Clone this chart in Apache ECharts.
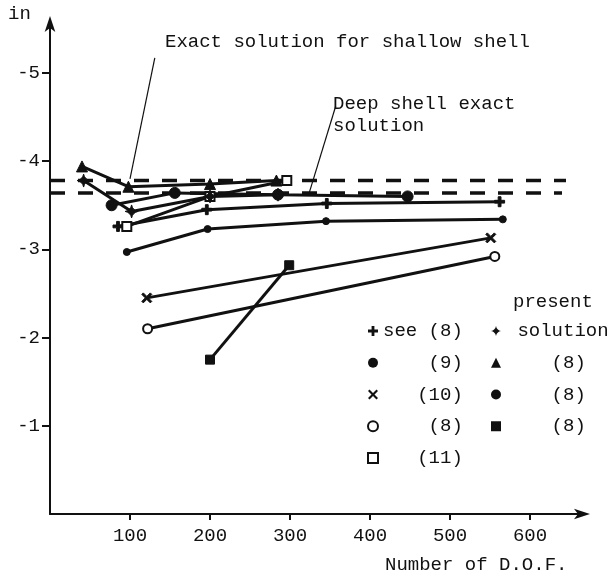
<!DOCTYPE html>
<html>
<head>
<meta charset="utf-8">
<script src="https://cdn.jsdelivr.net/npm/echarts@6/dist/echarts.min.js"></script>
<style>
  html, body { margin: 0; padding: 0; background: #fff; }
  #chart { width: 613px; height: 578px; }
</style>
</head>
<body>
<div id="chart"></div>
<script>
// values
const xTicks = [100, 200, 300, 400, 500, 600];
const yTicks = [-5, -4, -3, -2, -1];

const shallowExact = -3.78;
const deepExact = -3.64;
const exactEnd = [645, 640];

const seePlus8 = [[85, -3.26], [196, -3.45], [346, -3.52], [562, -3.54]];
const circle9 = [[77, -3.50], [156, -3.64], [285, -3.62], [447, -3.60]];
const cross10 = [[121, -2.45], [551, -3.13]];
const ring8 = [[122, -2.10], [556, -2.92]];
const openSquare11 = [[96, -3.26], [200, -3.60], [296, -3.78]];
const presentStar = [[42, -3.78], [102, -3.43], [200, -3.60], [285, -3.62]];
const presentTriangle = [[40, -3.94], [98, -3.71], [200, -3.74], [283, -3.78]];
const presentDot = [[96, -2.97], [197, -3.23], [345, -3.32], [566, -3.34]];
const presentSquare = [[200, -1.75], [299, -2.82]];

const font = 'Liberation Mono';
const ink = '#111';

const plusPath = 'path://M3.6,0H6.4V3.6H10V6.4H6.4V10H3.6V6.4H0V3.6H3.6Z';
const crossPath = 'path://M1.5,0L5,3.5L8.5,0L10,1.5L6.5,5L10,8.5L8.5,10L5,6.5L1.5,10L0,8.5L3.5,5L0,1.5Z';
const starPath = 'path://M5,0Q5.8,4.2 10,5Q5.8,5.8 5,10Q4.2,5.8 0,5Q4.2,4.2 5,0Z';

const legendText = {
  see8: 'see (8)',
  c9: '    (9)',
  x10: '   (10)',
  o8: '    (8)',
  sq11: '   (11)',
  pStar: ' solution',
  pTri: '    (8)',
  pDot: '    (8)',
  pSq: '    (8)'
};

function markSeries(name, data, symbol, size, extra) {
  return Object.assign({
    name: name,
    type: 'line',
    data: data,
    symbol: symbol,
    symbolSize: size,
    showSymbol: true,
    showAllSymbol: true,
    lineStyle: { color: ink, width: 3 },
    itemStyle: { color: ink, borderColor: ink },
    z: 3
  }, extra || {});
}

function exactLine(y, xEnd) {
  return {
    type: 'line',
    data: [[0, y], [xEnd, y]],
    symbol: 'none',
    silent: true,
    lineStyle: { color: ink, width: 3.5, type: [15, 13] },
    z: 2
  };
}

let legendBase = {
  orient: 'vertical',
  top: 316,
  itemWidth: 10,
  itemHeight: 10,
  itemGap: 11.75,
  selectedMode: false,
  formatter: n => legendText[n],
  textStyle: { fontFamily: font, fontSize: 19, lineHeight: 20, color: ink }
};

let chart = echarts.init(document.getElementById('chart'));

let options = {
  animation: false,
  backgroundColor: '#fff',
  grid: { left: 50, right: 27, top: 20, bottom: 64 },
  xAxis: {
    type: 'value',
    min: 0,
    max: 670,
    splitLine: { show: false },
    axisLine: { lineStyle: { color: ink, width: 2 }, symbol: ['none', 'arrow'], symbolSize: [8, 16], symbolOffset: [0, 4] },
    axisTick: { customValues: xTicks, length: 6, lineStyle: { color: ink, width: 2 } },
    axisLabel: { customValues: xTicks, color: ink, fontFamily: font, fontSize: 19, margin: 12 }
  },
  yAxis: {
    type: 'value',
    inverse: true,
    min: -5.6,
    max: 0,
    splitLine: { show: false },
    axisLine: { lineStyle: { color: ink, width: 2 }, symbol: ['none', 'arrow'], symbolSize: [8, 16], symbolOffset: [0, 4] },
    axisTick: { customValues: yTicks, length: 8, lineStyle: { color: ink, width: 2 } },
    axisLabel: { customValues: yTicks, color: ink, fontFamily: font, fontSize: 19, margin: 10 }
  },
  legend: [
    Object.assign({}, legendBase, {
      left: 362,
      data: [
        { name: 'see8', icon: plusPath },
        { name: 'c9', icon: 'circle' },
        { name: 'x10', icon: crossPath },
        { name: 'o8', icon: 'emptyCircle' },
        { name: 'sq11', icon: 'emptyRect' }
      ]
    }),
    Object.assign({}, legendBase, {
      left: 486,
      data: [
        { name: 'pStar', icon: starPath },
        { name: 'pTri', icon: 'triangle' },
        { name: 'pDot', icon: 'circle' },
        { name: 'pSq', icon: 'rect' }
      ]
    })
  ],
  graphic: [
    { type: 'text', left: 8, top: 4, style: { text: 'in', font: '19px "Liberation Mono"', fill: ink } },
    { type: 'text', left: 165, top: 32, style: { text: 'Exact solution for shallow shell', font: '19px "Liberation Mono"', fill: ink } },
    { type: 'text', left: 333, top: 93, style: { text: 'Deep shell exact\nsolution', font: '19px "Liberation Mono"', lineHeight: 22, fill: ink } },
    { type: 'text', left: 513, top: 292, style: { text: 'present', font: '19px "Liberation Mono"', fill: ink } },
    { type: 'text', left: 385, top: 555, style: { text: 'Number of D.O.F.', font: '19px "Liberation Mono"', fill: ink } }
  ],
  series: [
    exactLine(shallowExact, exactEnd[0]),
    exactLine(deepExact, exactEnd[1]),
    {
      type: 'line',
      data: [],
      silent: true,
      markLine: {
        silent: true,
        symbol: 'none',
        label: { show: false },
        lineStyle: { color: ink, width: 1.2, type: 'solid' },
        data: [
          [{ coord: [131, -5.17] }, { coord: [100, -3.80] }],
          [{ coord: [357, -4.62] }, { coord: [324, -3.64] }]
        ]
      }
    },
    markSeries('see8', seePlus8, plusPath, 10),
    markSeries('c9', circle9, 'circle', 11),
    markSeries('x10', cross10, crossPath, 10),
    markSeries('o8', ring8, 'emptyCircle', 9, { itemStyle: { color: ink, borderColor: ink, borderWidth: 3 } }),
    markSeries('sq11', openSquare11, 'emptyRect', 9, { itemStyle: { color: ink, borderColor: ink, borderWidth: 3 } }),
    markSeries('pStar', presentStar, starPath, 13),
    markSeries('pTri', presentTriangle, 'triangle', 11),
    markSeries('pDot', presentDot, 'circle', 7),
    markSeries('pSq', presentSquare, 'rect', 9)
  ]
};

chart.setOption(options);
</script>
</body>
</html>
